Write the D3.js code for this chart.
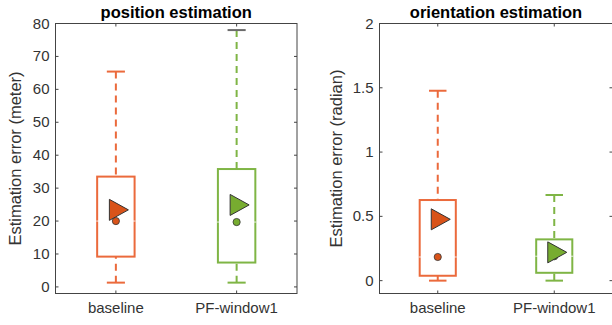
<!DOCTYPE html>
<html>
<head>
<meta charset="utf-8">
<script src="https://cdn.jsdelivr.net/npm/d3@7"></script>
<style>
  body { margin: 0; background: #fff; }
  text { font-family: "Liberation Sans", Arial, sans-serif; }
</style>
</head>
<body>
<svg width="612" height="325"></svg>
<script>
// categories and box statistics
var categories = ["baseline", "PF-window1"];

// [whisker low, q1, median, q3, whisker high]
var posBaseline = [1.3, 9.2, 20.0, 33.5, 65.4];
var posPF = [1.3, 7.4, 19.7, 35.8, 78.0];
var posMeans = [23.4, 24.9];

var oriBaseline = [0.0, 0.038, 0.184, 0.627, 1.477];
var oriPF = [0.0, 0.061, 0.19, 0.321, 0.666];
var oriMeans = [0.477, 0.22];

var posTicks = [0, 10, 20, 30, 40, 50, 60, 70, 80];
var oriTicks = [0, 0.5, 1, 1.5, 2];

var lineColors = ["#eb6a3c", "#7fb545"];
var fillColors = ["#d95319", "#77ac30"];

var svg = d3.select("svg");

function panel(opts) {
  var g = svg.append("g");
  var x = d3.scaleLinear().domain([0.5, 2.5]).range([opts.left, opts.right]);
  var y = d3.scaleLinear().domain(opts.domain).range([293.5, 23.5]);
  var tickLen = 3;

  // boxes
  opts.stats.forEach(function (s, i) {
    var cx = x(i + 1);
    var bw = (x(1.155) - x(1)) ;
    var cw = (x(1.075) - x(1));
    var c = lineColors[i];
    // whiskers (dashed)
    g.append("line").attr("x1", cx).attr("x2", cx)
      .attr("y1", y(s[4])).attr("y2", y(s[3]))
      .attr("stroke", c).attr("stroke-width", 2).attr("stroke-dasharray", "7,5");
    g.append("line").attr("x1", cx).attr("x2", cx)
      .attr("y1", y(s[0])).attr("y2", y(s[1]))
      .attr("stroke", c).attr("stroke-width", 2).attr("stroke-dasharray", "7,5");
    // caps
    g.append("line").attr("x1", cx - cw).attr("x2", cx + cw)
      .attr("y1", y(s[4])).attr("y2", y(s[4]))
      .attr("stroke", opts.capTop[i]).attr("stroke-width", 2);
    g.append("line").attr("x1", cx - cw).attr("x2", cx + cw)
      .attr("y1", y(s[0])).attr("y2", y(s[0]))
      .attr("stroke", c).attr("stroke-width", 2);
    // box
    g.append("rect").attr("x", cx - bw).attr("width", 2 * bw)
      .attr("y", y(s[3])).attr("height", y(s[1]) - y(s[3]))
      .attr("fill", "#fff").attr("stroke", c).attr("stroke-width", 2);
    // median line (white)
    g.append("line").attr("x1", cx - bw - 1).attr("x2", cx + bw + 1)
      .attr("y1", y(s[2])).attr("y2", y(s[2]))
      .attr("stroke", "#fff").attr("stroke-width", 1).attr("opacity", 0.8);
    // median dot
    g.append("circle").attr("cx", cx).attr("cy", y(s[2])).attr("r", 3.6)
      .attr("fill", fillColors[i]).attr("stroke", "#333").attr("stroke-width", 0.8);
    // mean triangle
    var my = y(opts.means[i]);
    g.append("path")
      .attr("d", "M" + (cx - 6.5) + "," + (my - 10.5) + "L" + (cx + 12.5) + "," + my +
        "L" + (cx - 6.5) + "," + (my + 10.5) + "Z")
      .attr("fill", fillColors[i]).attr("stroke", "#333").attr("stroke-width", 1);
  });

  // axes box
  g.append("rect").attr("x", opts.left).attr("y", 23.5)
    .attr("width", opts.right - opts.left).attr("height", 270)
    .attr("fill", "none").attr("stroke", "#444").attr("stroke-width", 1);

  // y ticks (inside, both sides)
  opts.ticks.forEach(function (t) {
    g.append("line").attr("x1", opts.left).attr("x2", opts.left + tickLen)
      .attr("y1", y(t)).attr("y2", y(t)).attr("stroke", "#444");
    g.append("line").attr("x1", opts.right).attr("x2", opts.right - tickLen)
      .attr("y1", y(t)).attr("y2", y(t)).attr("stroke", "#444");
    g.append("text").attr("x", opts.left - 6).attr("y", y(t) + 5)
      .attr("text-anchor", "end").attr("font-size", 15).attr("fill", "#333")
      .text(opts.fmt(t));
  });

  // x ticks and labels
  categories.forEach(function (c, i) {
    var cx = x(i + 1);
    g.append("line").attr("x1", cx).attr("x2", cx)
      .attr("y1", 293.5).attr("y2", 293.5 - tickLen).attr("stroke", "#444");
    g.append("line").attr("x1", cx).attr("x2", cx)
      .attr("y1", 23.5).attr("y2", 23.5 + tickLen).attr("stroke", "#444");
    g.append("text").attr("x", cx).attr("y", 313)
      .attr("text-anchor", "middle").attr("font-size", 15).attr("fill", "#333")
      .text(c);
  });

  // title
  g.append("text").attr("x", (opts.left + opts.right) / 2).attr("y", 18)
    .attr("text-anchor", "middle").attr("font-size", 16.5).attr("font-weight", "bold")
    .attr("fill", "#000").text(opts.title);

  // y label
  g.append("text")
    .attr("transform", "translate(" + opts.labelX + "," + 158.5 + ") rotate(-90)")
    .attr("text-anchor", "middle").attr("font-size", 16.5).attr("fill", "#333")
    .text(opts.ylabel);
}

panel({
  left: 55.5, right: 297, domain: [-2, 80], ticks: posTicks,
  stats: [posBaseline, posPF], means: posMeans,
  capTop: ["#eb6a3c", "#6b6b6b"],
  fmt: function (d) { return d; },
  title: "position estimation", ylabel: "Estimation error (meter)", labelX: 21
});

panel({
  left: 379.5, right: 612.5, domain: [-0.1, 2], ticks: oriTicks,
  stats: [oriBaseline, oriPF], means: oriMeans,
  capTop: ["#eb6a3c", "#7fb545"],
  fmt: function (d) { return d; },
  title: "orientation estimation", ylabel: "Estimation error (radian)", labelX: 342
});
</script>
</body>
</html>
